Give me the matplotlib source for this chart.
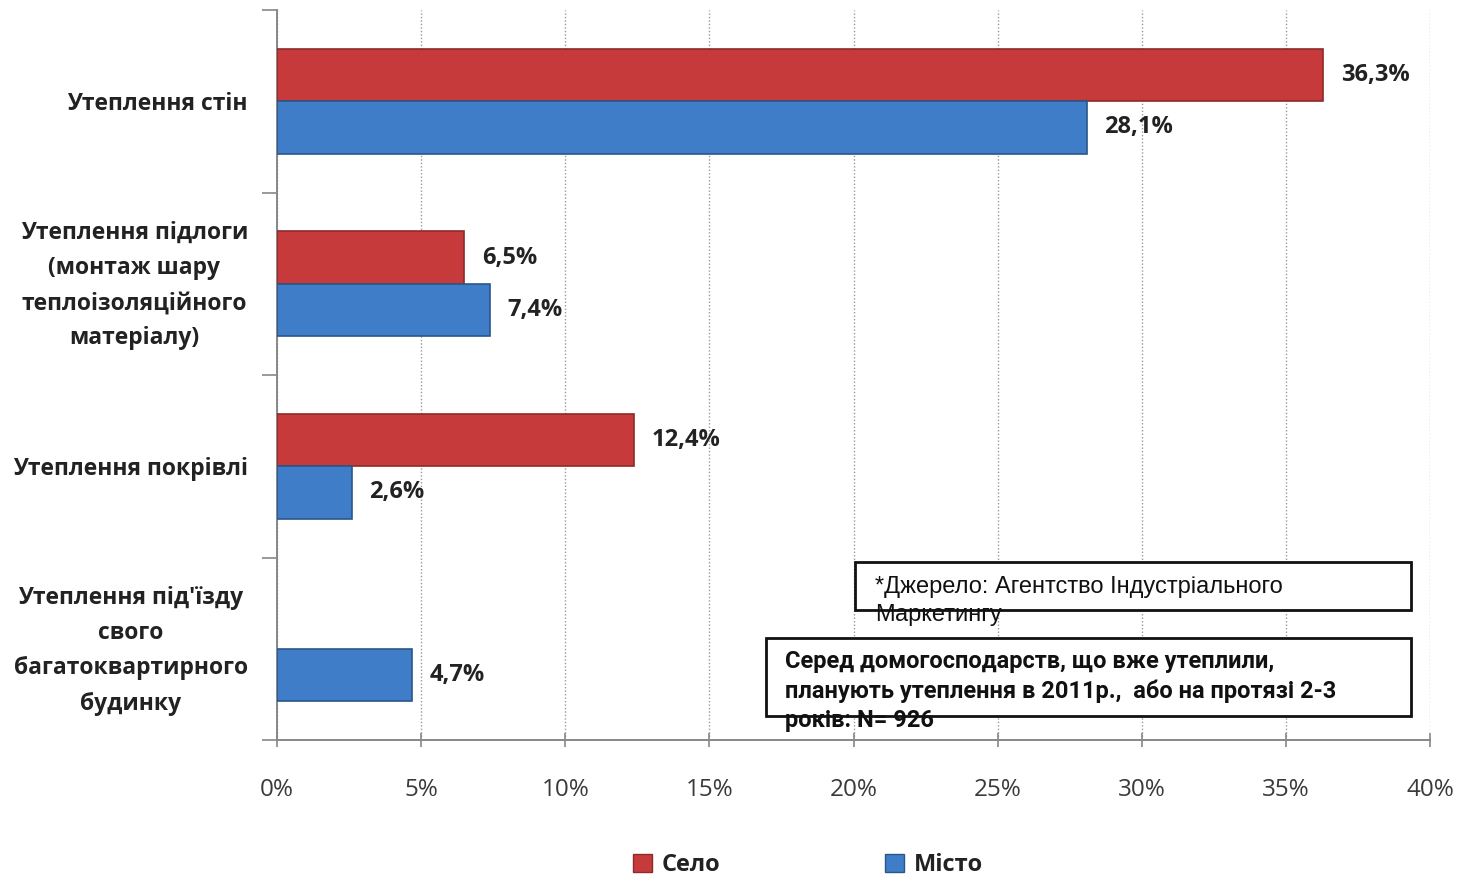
import matplotlib
matplotlib.use("Agg")
import matplotlib.pyplot as plt
from matplotlib.patches import Rectangle, Patch
import numpy as np

categories = ["Утеплення стін",
              "Утеплення підлоги\n(монтаж шару\nтеплоізоляційного\nматеріалу)",
              "Утеплення покрівлі",
              "Утеплення під'їзду\nсвого\nбагатоквартирного\nбудинку"]
selo = [36.3, 6.5, 12.4, None]
misto = [28.1, 7.4, 2.6, 4.7]
series_names = ["Село", "Місто"]
xticks = [0, 5, 10, 15, 20, 25, 30, 35, 40]

plt.rcParams['font.family'] = ['Open Sans', 'DejaVu Sans']

fig = plt.figure(figsize=(14.62, 8.76), dpi=100)
ax = fig.add_axes([277/1462, 1-740/876, (1430-277)/1462, (740-10)/876])

red, red_edge = "#C63A3C", "#8E2A2B"
blue, blue_edge = "#3F7DC8", "#2A5688"
h = 0.287
y = np.arange(len(categories))

for i in range(len(categories)):
    if selo[i] is not None:
        ax.barh(y[i] - h/2, selo[i], height=h, color=red, edgecolor=red_edge, linewidth=1.2, zorder=3)
        ax.text(selo[i] + 0.6, y[i] - h/2, f"{selo[i]:.1f}%".replace(".", ","), va="center", ha="left",
                fontsize=17, fontweight="bold", color="#222222", zorder=4)
    if misto[i] is not None:
        ax.barh(y[i] + h/2, misto[i], height=h, color=blue, edgecolor=blue_edge, linewidth=1.2, zorder=3)
        ax.text(misto[i] + 0.6, y[i] + h/2, f"{misto[i]:.1f}%".replace(".", ","), va="center", ha="left",
                fontsize=17, fontweight="bold", color="#222222", zorder=4)

ax.set_xlim(0, 40)
ax.set_ylim(3.5, -0.5)
ax.set_xticks(xticks)
ax.set_xticklabels([f"{t}%" for t in xticks], fontsize=17.5, color="#3a3a3a")
ax.set_yticks([-0.5, 0.5, 1.5, 2.5, 3.5])
ax.set_yticklabels([])
ax.tick_params(axis="y", which="major", length=11, color="#888888", width=1.2)
ax.tick_params(axis="x", length=10, color="#888888", width=1.2, pad=22, direction="inout")

# category labels
for i, cat in enumerate(categories):
    dy = -2 if "\n" in cat else -3
    ax.annotate(cat, xy=(0, y[i]), xycoords=("axes fraction", "data"),
                xytext=(-29, dy), textcoords="offset pixels",
                ha="right", va="center", multialignment="center", linespacing=1.62,
                fontsize=16.5, fontweight="bold", color="#222222", annotation_clip=False)

for s in ["top", "right"]:
    ax.spines[s].set_visible(False)
for s in ["left", "bottom"]:
    ax.spines[s].set_color("#888888")
    ax.spines[s].set_linewidth(1.4)
ax.grid(axis="x", linestyle=(0, (1, 1.5)), color="#999999", linewidth=1, zorder=0)
ax.set_axisbelow(True)

# annotation boxes
fig.patches.append(Rectangle((855/1462, 1-610/876), (1411-855)/1462, (610-562)/876,
                             transform=fig.transFigure, fill=True, facecolor="white",
                             edgecolor="#111111", linewidth=2, zorder=5))
fig.text(875/1462, 1-601/876, "*Джерело: Агентство Індустріального\nМаркетингу",
         fontsize=17, family=["Liberation Sans", "DejaVu Sans"], va="center", ha="left",
         color="#111111", linespacing=1.33, zorder=6)
fig.patches.append(Rectangle((766/1462, 1-716/876), (1411-766)/1462, (716-638)/876,
                             transform=fig.transFigure, fill=True, facecolor="white",
                             edgecolor="#111111", linewidth=2, zorder=5))
fig.text(785/1462, 1-691/876,
         "Серед домогосподарств, що вже утеплили,\nпланують утеплення в 2011р.,  або на протязі 2-3\nроків: N= 926",
         fontsize=17, fontweight="bold", family=["Roboto", "DejaVu Sans"], va="center", ha="left",
         color="#111111", linespacing=1.33, zorder=6)

handles = [Patch(facecolor=red, edgecolor=red_edge), Patch(facecolor=blue, edgecolor=blue_edge)]
leg = fig.legend(handles, series_names, loc="center", bbox_to_anchor=(808/1462, 1-865/876), ncol=2,
                 frameon=False, fontsize=17, columnspacing=7, handlelength=0.8, handleheight=0.8,
                 handletextpad=0.4)
for t in leg.get_texts():
    t.set_fontweight("bold")
    t.set_color("#222222")

fig.savefig("out.png", dpi=100)
